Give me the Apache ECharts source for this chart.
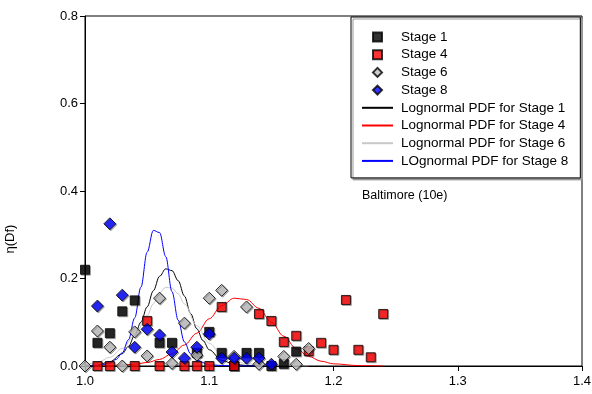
<!DOCTYPE html>
<html>
<head>
<meta charset="utf-8">
<script src="https://cdn.jsdelivr.net/npm/echarts@6/dist/echarts.min.js"></script>
<style>
  html, body { margin: 0; padding: 0; background: #fff; }
  #chart { width: 592px; height: 394px; }
</style>
</head>
<body>
<div id="chart"></div>
<script>
// measured points, x = 1.00 ... 1.24 in 0.01 steps
const stageX = [1.00, 1.01, 1.02, 1.03, 1.04, 1.05, 1.06, 1.07, 1.08, 1.09, 1.10, 1.11, 1.12,
  1.13, 1.14, 1.15, 1.16, 1.17, 1.18, 1.19, 1.20, 1.21, 1.22, 1.23, 1.24]
const stage1 = [0.22, 0.053, 0.075, 0.125, 0.15, null, 0.053, 0.053, null, 0.03, 0.078, 0.03, 0,
  0.03, 0.03, 0, 0.005, 0.033, null, null, null, null, null, null, null]
const stage4 = [null, 0, 0, null, 0, 0.103, 0, null, 0, 0, 0, 0.135, 0,
  null, 0.119, 0.103, 0.055, 0.069, 0.034, 0.053, 0.037, 0.151, 0.037, 0.02, 0.119]
const stage6 = [0, 0.08, 0.043, 0, 0.078, 0.023, 0.155, 0.006, 0.098, 0.025, 0.155, 0.173, 0.022,
  0.135, 0.004, null, 0.022, 0.004, 0.04, null, null, null, null, null, null]
const stage8 = [null, 0.137, 0.325, 0.162, 0.043, 0.084, 0.071, 0.032, 0.018, 0.043, 0.073, 0.018, 0.018,
  0.018, 0.018, 0.004, null, null, null, null, null, null, null, null, null]

// fitted curves
const pdf1X = [1.00, 1.01, 1.02, 1.03, 1.035, 1.04, 1.045, 1.05, 1.055, 1.06, 1.065, 1.07, 1.075,
  1.08, 1.085, 1.09, 1.095, 1.10, 1.11, 1.12, 1.13, 1.15, 1.18]
const pdf1Y = [0, 0.002, 0.01, 0.028, 0.045, 0.07, 0.1, 0.135, 0.172, 0.205, 0.222, 0.218, 0.195,
  0.16, 0.12, 0.085, 0.058, 0.037, 0.013, 0.004, 0.001, 0, 0]
const pdf4X = [1.00, 1.02, 1.04, 1.05, 1.06, 1.07, 1.08, 1.09, 1.10, 1.11, 1.12, 1.13, 1.14,
  1.15, 1.16, 1.17, 1.18, 1.19, 1.20, 1.22, 1.24]
const pdf4Y = [0, 0.001, 0.004, 0.008, 0.015, 0.028, 0.048, 0.075, 0.108, 0.138, 0.155, 0.152, 0.132,
  0.1, 0.068, 0.04, 0.022, 0.011, 0.005, 0.001, 0]
const pdf6X = [1.00, 1.01, 1.02, 1.03, 1.04, 1.05, 1.055, 1.06, 1.065, 1.07, 1.075, 1.08, 1.09,
  1.10, 1.11, 1.12, 1.13, 1.15, 1.18]
const pdf6Y = [0.002, 0.008, 0.02, 0.04, 0.07, 0.115, 0.142, 0.167, 0.18, 0.178, 0.165, 0.142, 0.092,
  0.052, 0.026, 0.012, 0.005, 0.001, 0]
const pdf8X = [1.00, 1.01, 1.02, 1.025, 1.03, 1.035, 1.04, 1.045, 1.05, 1.055, 1.06, 1.065, 1.07,
  1.075, 1.08, 1.085, 1.09, 1.10, 1.11, 1.13, 1.15]
const pdf8Y = [0, 0.001, 0.006, 0.015, 0.03, 0.06, 0.11, 0.18, 0.26, 0.31, 0.305, 0.25, 0.17,
  0.105, 0.055, 0.028, 0.013, 0.003, 0.001, 0, 0]

const xTicks = { min: 1.0, max: 1.4, step: 0.1 }
const yTicks = { min: 0, max: 0.8, step: 0.2 }

const FONT = 'Liberation Sans, Arial, sans-serif'
const SQUARE = 'path://M0,0H10V10H0Z'
const DIAMOND = 'path://M5,0L10,5L5,10L0,5Z'

function pairs(xs, ys) {
  return xs.map((x, i) => [x, ys[i]]).filter(p => p[1] !== null)
}

function scatter(name, values, symbol, size, fill) {
  return {
    name,
    type: 'scatter',
    z: 3,
    symbol,
    symbolSize: size,
    data: pairs(stageX, values),
    itemStyle: {
      color: fill,
      borderColor: '#000',
      borderWidth: 1,
      shadowColor: 'rgba(0,0,0,0.35)',
      shadowOffsetX: 1,
      shadowOffsetY: 1
    },
    emphasis: { disabled: true }
  }
}

function curve(name, xs, ys, color) {
  return {
    name,
    type: 'line',
    z: 2,
    symbol: 'none',
    smooth: 0.35,
    smoothMonotone: 'x',
    data: pairs(xs, ys),
    lineStyle: { color, width: 1 },
    itemStyle: { color }
  }
}

// line entries in the legend: plain line, no dot
const lineEntry = name => ({ name, itemStyle: { opacity: 0 } })

const chart = echarts.init(document.getElementById('chart'))

chart.setOption({
  animation: false,
  grid: {
    left: 85, right: 10, top: 16, bottom: 28,
    outerBoundsMode: 'none',
    show: true, borderColor: '#000', borderWidth: 1
  },
  xAxis: {
    type: 'value',
    min: xTicks.min, max: xTicks.max, interval: xTicks.step,
    axisLine: { lineStyle: { color: '#000', width: 1 } },
    axisTick: { length: 5, lineStyle: { color: '#000' } },
    axisLabel: {
      color: '#000', fontFamily: FONT, fontSize: 13, margin: 9,
      formatter: v => v.toFixed(1)
    },
    splitLine: { show: false }
  },
  yAxis: {
    type: 'value',
    min: yTicks.min, max: yTicks.max, interval: yTicks.step,
    name: 'η(Df)',
    nameLocation: 'middle',
    nameRotate: 90,
    nameGap: 68,
    // the label sits a bit below the middle of the axis
    nameTextStyle: { color: '#000', fontFamily: FONT, fontSize: 13, padding: [0, 96, 0, 0] },
    axisLine: { show: true, lineStyle: { color: '#000', width: 1 } },
    axisTick: { show: true, length: 5, lineStyle: { color: '#000' } },
    axisLabel: {
      color: '#000', fontFamily: FONT, fontSize: 13, margin: 7,
      formatter: v => v.toFixed(1)
    },
    splitLine: { show: false }
  },
  legend: {
    orient: 'vertical',
    left: 351,
    top: 17,
    padding: [13, 12, 10, 10],
    itemGap: 3.7,
    itemWidth: 31,
    itemHeight: 9,
    backgroundColor: '#fff',
    borderColor: '#000',
    borderWidth: 1,
    borderRadius: 0,
    shadowColor: '#999',
    shadowOffsetX: 2,
    shadowOffsetY: 2,
    selectedMode: false,
    textStyle: {
      color: '#000', fontFamily: FONT, fontSize: 13.5, lineHeight: 14,
      padding: [0, 0, 0, 3]
    },
    data: [
      { name: 'Stage 1', icon: SQUARE },
      { name: 'Stage 4', icon: SQUARE },
      { name: 'Stage 6', icon: DIAMOND },
      { name: 'Stage 8', icon: DIAMOND },
      lineEntry('Lognormal PDF for Stage 1'),
      lineEntry('Lognormal PDF for Stage 4'),
      lineEntry('Lognormal PDF for Stage 6'),
      lineEntry('LOgnormal PDF for Stage 8')
    ]
  },
  graphic: [{
    type: 'text',
    left: 362,
    top: 189,
    style: { text: 'Baltimore (10e)', fill: '#000', font: '12.5px ' + FONT }
  }],
  series: [
    curve('Lognormal PDF for Stage 1', pdf1X, pdf1Y, '#000000'),
    curve('Lognormal PDF for Stage 4', pdf4X, pdf4Y, '#ff0000'),
    curve('Lognormal PDF for Stage 6', pdf6X, pdf6Y, '#c8c8c8'),
    curve('LOgnormal PDF for Stage 8', pdf8X, pdf8Y, '#0000ff'),
    scatter('Stage 1', stage1, 'rect', 9, '#000000'),
    scatter('Stage 4', stage4, 'rect', 9, '#ff0000'),
    scatter('Stage 6', stage6, 'diamond', 12, '#c0c0c0'),
    scatter('Stage 8', stage8, 'diamond', 12, '#0000ff')
  ]
})

window.addEventListener('resize', () => chart.resize())
</script>
</body>
</html>
